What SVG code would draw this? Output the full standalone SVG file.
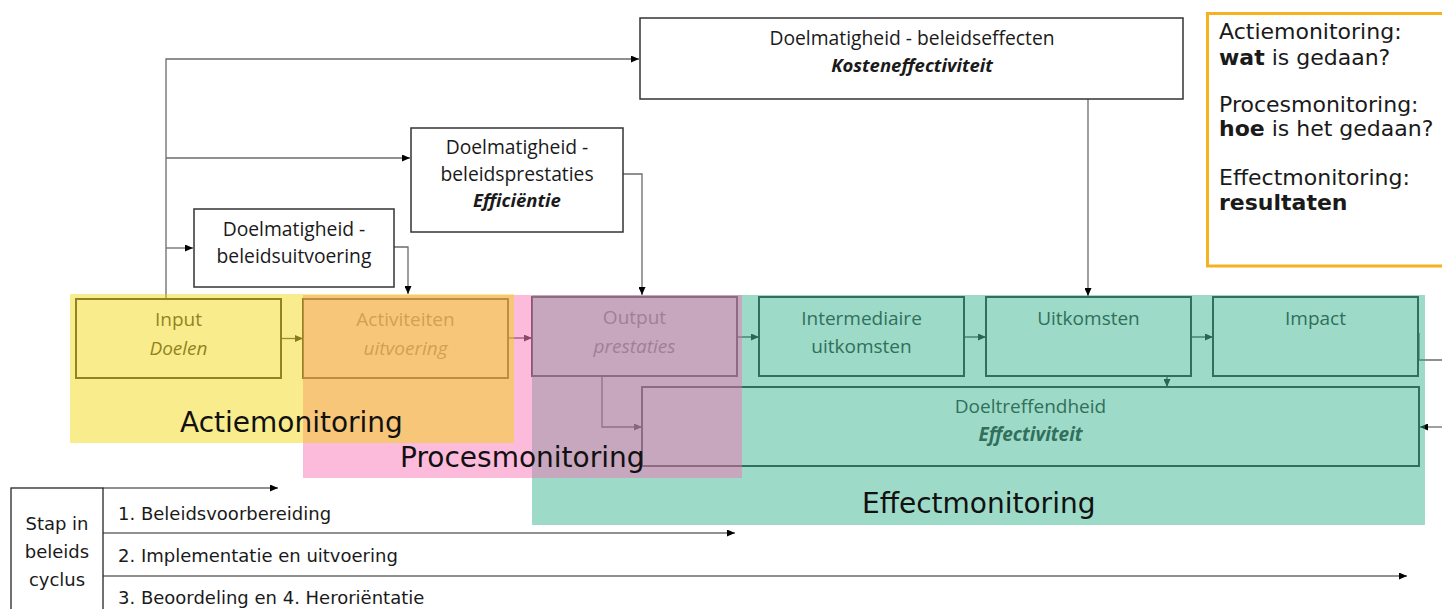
<svg xmlns="http://www.w3.org/2000/svg" width="1442" height="609" viewBox="0 0 1442 609">
  <defs>
    <marker id="arrow" viewBox="0 0 8 7" refX="8" refY="3.5" markerWidth="8" markerHeight="7" markerUnits="userSpaceOnUse" orient="auto">
      <path d="M0,0 L8,3.5 L0,7 z" fill="#000"/>
    </marker>
    <marker id="arrowStage" viewBox="0 0 8 7" refX="8" refY="3.5" markerWidth="8" markerHeight="7" markerUnits="userSpaceOnUse" orient="auto">
      <path d="M0,0 L8,3.5 L0,7 z" fill="#303030"/>
    </marker>
  </defs>
  <style>
    .box{fill:#fff;stroke:#333;stroke-width:1.5}
    .stage{fill:none;stroke:#404040;stroke-width:2}
    .lbl{font-family:"Open Sans","Noto Sans",sans-serif;font-size:19.3px;fill:#1a1a1a;text-anchor:middle}
    .stg{font-family:"Open Sans","Noto Sans",sans-serif;font-size:19px;fill:#404040;text-anchor:middle}
    .faint{fill:#808080}
    .em{font-style:italic}
    .strong{font-weight:bold;font-style:italic}
    .lbl.strong{font-size:18.5px}
    .conn{fill:none;stroke:#6b6b6b;stroke-width:1.3}
    .flow{fill:none;stroke:#505050;stroke-width:1.3}
    .zone-label{font-family:"DejaVu Sans",Verdana,sans-serif;font-size:28px;fill:#111}
    .legend{font-family:"DejaVu Sans",Verdana,sans-serif;font-size:22px;fill:#1a1a1a}
    .cycle{font-family:"DejaVu Sans",Verdana,sans-serif;font-size:18px;fill:#1a1a1a}
  </style>

  <rect x="0" y="0" width="1442" height="609" fill="#fff"/>

  <!-- connectors -->
  <g id="connectors">
    <path class="conn" d="M166,299 V59 H639" marker-end="url(#arrow)"/>
    <path class="conn" d="M166,158 H410" marker-end="url(#arrow)"/>
    <path class="conn" d="M166,248 H193" marker-end="url(#arrow)"/>
    <path class="conn" d="M394,247 H408 V294" marker-end="url(#arrow)"/>
    <path class="conn" d="M623,174 H642 V295" marker-end="url(#arrow)"/>
    <path class="conn" d="M1088,99 V296" marker-end="url(#arrow)"/>

    <path class="flow" d="M281,338.5 H303" marker-end="url(#arrowStage)"/>
    <path class="flow" d="M508,338 H532" marker-end="url(#arrowStage)"/>
    <path class="flow" d="M737,337 H759" marker-end="url(#arrowStage)"/>
    <path class="flow" d="M964,337 H986" marker-end="url(#arrowStage)"/>
    <path class="flow" d="M1191,337 H1213" marker-end="url(#arrowStage)"/>
    <path class="flow" d="M1167,376 V387" marker-end="url(#arrowStage)"/>
    <path class="flow" d="M602,376 V427 H642" marker-end="url(#arrowStage)"/>
    <path class="conn" d="M1419,333 V360 H1442"/>
    <path class="conn" d="M1442,427 H1420" marker-end="url(#arrow)"/>

    <path class="conn" d="M103,488 H278" marker-end="url(#arrow)"/>
    <path class="conn" d="M103,533 H735" marker-end="url(#arrow)"/>
    <path class="conn" d="M103,576 H1407" marker-end="url(#arrow)"/>
  </g>

  <!-- efficiency boxes -->
  <g id="node-beleidsuitvoering">
    <rect class="box" x="194" y="209" width="200" height="78"/>
    <text class="lbl" x="294" y="236">Doelmatigheid -</text>
    <text class="lbl" x="294" y="263">beleidsuitvoering</text>
  </g>
  <g id="node-beleidsprestaties">
    <rect class="box" x="411" y="128" width="212" height="104"/>
    <text class="lbl" x="517" y="154">Doelmatigheid -</text>
    <text class="lbl" x="517" y="181">beleidsprestaties</text>
    <text class="lbl strong" x="517" y="207">Efficiëntie</text>
  </g>
  <g id="node-beleidseffecten">
    <rect class="box" x="640" y="18" width="543" height="81"/>
    <text class="lbl" x="912" y="45">Doelmatigheid - beleidseffecten</text>
    <text class="lbl strong" x="912" y="72">Kosteneffectiviteit</text>
  </g>

  <!-- result chain -->
  <g id="node-input">
    <rect class="stage" x="76" y="299" width="205" height="79"/>
    <text class="stg" x="178.5" y="326">Input</text>
    <text class="stg em" x="178.5" y="355">Doelen</text>
  </g>
  <g id="node-activiteiten">
    <rect class="stage" x="303" y="299" width="205" height="79"/>
    <text class="stg faint" x="405.5" y="326">Activiteiten</text>
    <text class="stg faint em" x="405.5" y="355">uitvoering</text>
  </g>
  <g id="node-output">
    <rect class="stage" x="532" y="297" width="205" height="79"/>
    <text class="stg faint" x="634.5" y="324">Output</text>
    <text class="stg faint em" x="634.5" y="353">prestaties</text>
  </g>
  <g id="node-intermediaire">
    <rect class="stage" x="759" y="297" width="205" height="79"/>
    <text class="stg" x="861.5" y="325">Intermediaire</text>
    <text class="stg" x="861.5" y="353">uitkomsten</text>
  </g>
  <g id="node-uitkomsten">
    <rect class="stage" x="986" y="297" width="205" height="79"/>
    <text class="stg" x="1088.5" y="325">Uitkomsten</text>
  </g>
  <g id="node-impact">
    <rect class="stage" x="1213" y="297" width="205" height="79"/>
    <text class="stg" x="1315.5" y="325">Impact</text>
  </g>
  <g id="node-doeltreffendheid">
    <rect class="stage" x="642" y="387" width="777" height="79"/>
    <text class="stg" x="1030.5" y="413">Doeltreffendheid</text>
    <text class="stg strong" x="1030.5" y="441" fill="#2e2e2e">Effectiviteit</text>
  </g>

  <!-- monitoring zones (translucent) -->
  <g id="zones">
    <rect x="532" y="295" width="893" height="230" fill="rgb(32,170,127)" fill-opacity="0.44"/>
    <rect x="303" y="295" width="439" height="183" fill="rgb(251,104,178)" fill-opacity="0.45"/>
    <rect x="70" y="294" width="444" height="149" fill="rgb(242,213,0)" fill-opacity="0.45"/>
  </g>
  <g id="zone-labels">
    <text class="zone-label" x="180" y="432">Actiemonitoring</text>
    <text class="zone-label" x="400" y="467">Procesmonitoring</text>
    <text class="zone-label" x="862" y="513">Effectmonitoring</text>
  </g>

  <!-- legend -->
  <g id="legend">
    <rect x="1207.5" y="13.5" width="250" height="252.5" fill="#fff" stroke="#f5b120" stroke-width="3"/>
    <text class="legend" x="1219" y="39">Actiemonitoring:</text>
    <text class="legend" x="1219" y="65"><tspan font-weight="bold">wat</tspan> is gedaan?</text>
    <text class="legend" x="1219" y="112">Procesmonitoring:</text>
    <text class="legend" x="1219" y="136"><tspan font-weight="bold">hoe</tspan> is het gedaan?</text>
    <text class="legend" x="1219" y="185">Effectmonitoring:</text>
    <text class="legend" x="1219" y="210" font-weight="bold">resultaten</text>
  </g>

  <!-- policy cycle -->
  <g id="node-cycle">
    <rect x="11" y="488" width="92" height="130" fill="none" stroke="#262626" stroke-width="1.3"/>
    <text class="cycle" x="57" y="530" text-anchor="middle">Stap in</text>
    <text class="cycle" x="57" y="558" text-anchor="middle">beleids</text>
    <text class="cycle" x="57" y="586" text-anchor="middle">cyclus</text>
    <text class="cycle" x="118" y="520">1. Beleidsvoorbereiding</text>
    <text class="cycle" x="118" y="562">2. Implementatie en uitvoering</text>
    <text class="cycle" x="118" y="604">3. Beoordeling en 4. Heroriëntatie</text>
  </g>
</svg>
